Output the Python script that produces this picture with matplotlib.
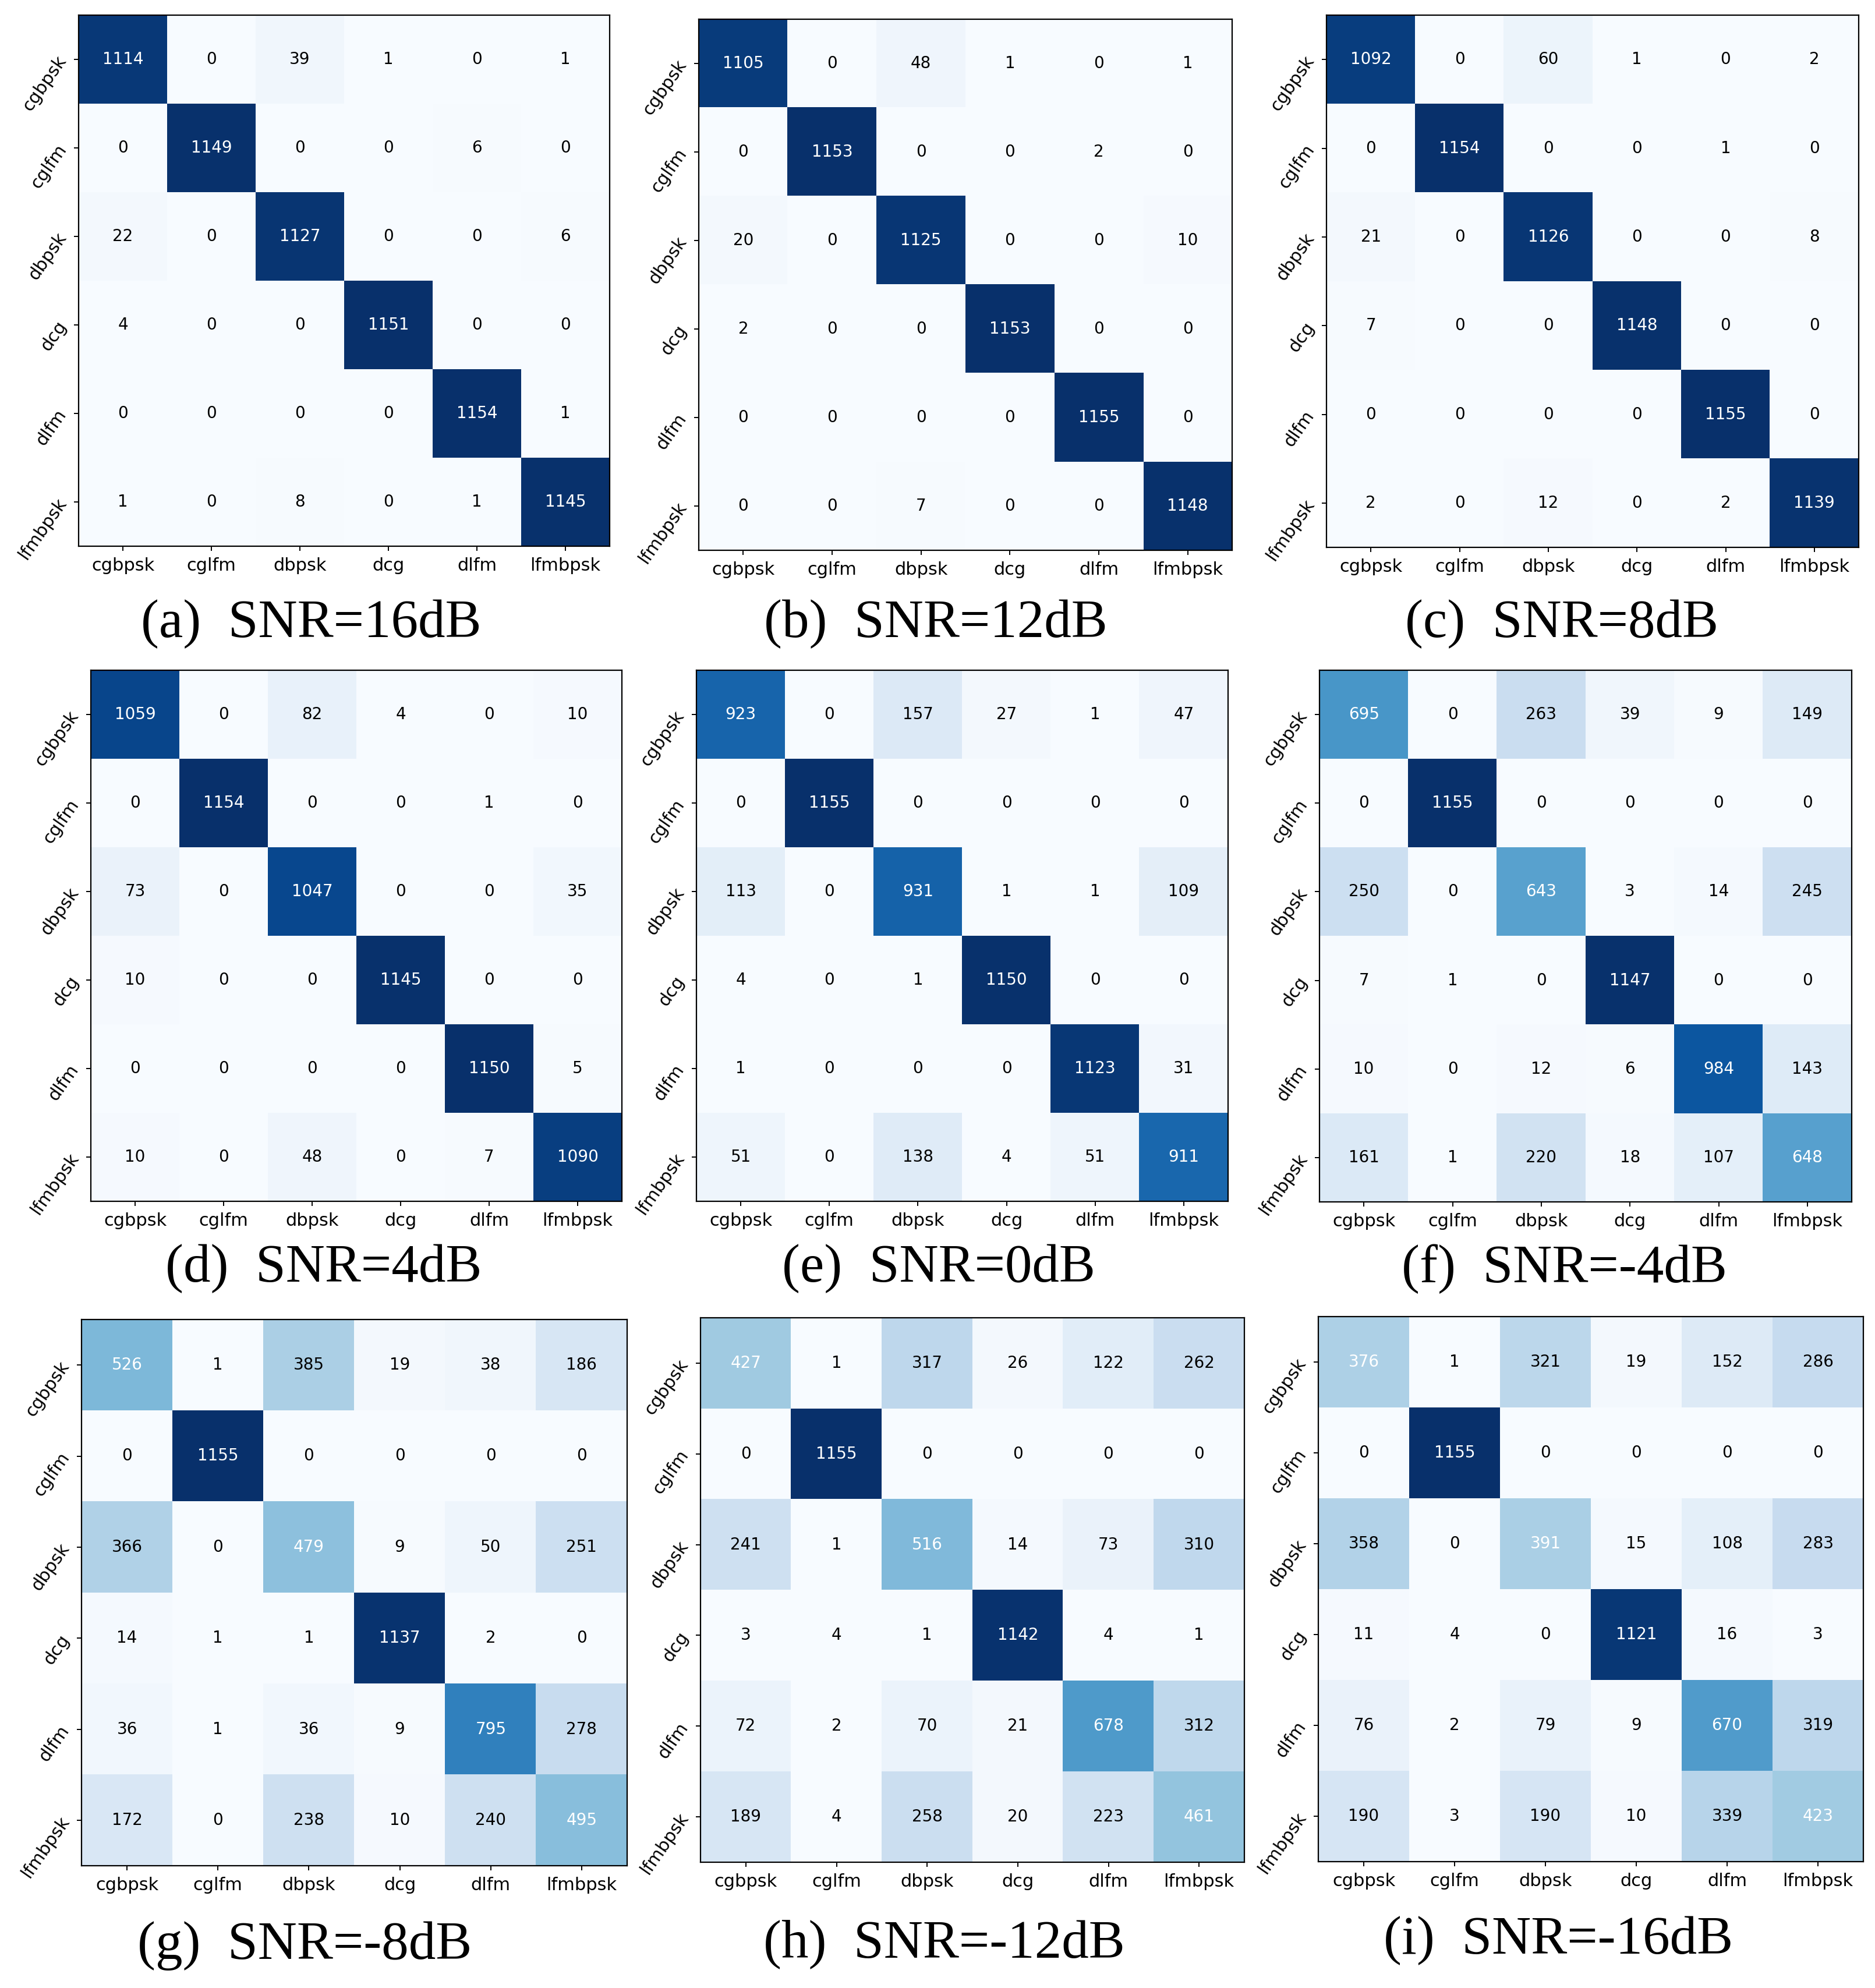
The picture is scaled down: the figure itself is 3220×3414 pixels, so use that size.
import matplotlib
matplotlib.use('Agg')
import matplotlib.pyplot as plt
import numpy as np

classes = ['cgbpsk', 'cglfm', 'dbpsk', 'dcg', 'dlfm', 'lfmbpsk']

cm_16 = [[1114, 0, 39, 1, 0, 1],
         [0, 1149, 0, 0, 6, 0],
         [22, 0, 1127, 0, 0, 6],
         [4, 0, 0, 1151, 0, 0],
         [0, 0, 0, 0, 1154, 1],
         [1, 0, 8, 0, 1, 1145]]
cm_12 = [[1105, 0, 48, 1, 0, 1],
         [0, 1153, 0, 0, 2, 0],
         [20, 0, 1125, 0, 0, 10],
         [2, 0, 0, 1153, 0, 0],
         [0, 0, 0, 0, 1155, 0],
         [0, 0, 7, 0, 0, 1148]]
cm_8 = [[1092, 0, 60, 1, 0, 2],
        [0, 1154, 0, 0, 1, 0],
        [21, 0, 1126, 0, 0, 8],
        [7, 0, 0, 1148, 0, 0],
        [0, 0, 0, 0, 1155, 0],
        [2, 0, 12, 0, 2, 1139]]
cm_4 = [[1059, 0, 82, 4, 0, 10],
        [0, 1154, 0, 0, 1, 0],
        [73, 0, 1047, 0, 0, 35],
        [10, 0, 0, 1145, 0, 0],
        [0, 0, 0, 0, 1150, 5],
        [10, 0, 48, 0, 7, 1090]]
cm_0 = [[923, 0, 157, 27, 1, 47],
        [0, 1155, 0, 0, 0, 0],
        [113, 0, 931, 1, 1, 109],
        [4, 0, 1, 1150, 0, 0],
        [1, 0, 0, 0, 1123, 31],
        [51, 0, 138, 4, 51, 911]]
cm_m4 = [[695, 0, 263, 39, 9, 149],
         [0, 1155, 0, 0, 0, 0],
         [250, 0, 643, 3, 14, 245],
         [7, 1, 0, 1147, 0, 0],
         [10, 0, 12, 6, 984, 143],
         [161, 1, 220, 18, 107, 648]]
cm_m8 = [[526, 1, 385, 19, 38, 186],
         [0, 1155, 0, 0, 0, 0],
         [366, 0, 479, 9, 50, 251],
         [14, 1, 1, 1137, 2, 0],
         [36, 1, 36, 9, 795, 278],
         [172, 0, 238, 10, 240, 495]]
cm_m12 = [[427, 1, 317, 26, 122, 262],
          [0, 1155, 0, 0, 0, 0],
          [241, 1, 516, 14, 73, 310],
          [3, 4, 1, 1142, 4, 1],
          [72, 2, 70, 21, 678, 312],
          [189, 4, 258, 20, 223, 461]]
cm_m16 = [[376, 1, 321, 19, 152, 286],
          [0, 1155, 0, 0, 0, 0],
          [358, 0, 391, 15, 108, 283],
          [11, 4, 0, 1121, 16, 3],
          [76, 2, 79, 9, 670, 319],
          [190, 3, 190, 10, 339, 423]]

captions = ['(a)  SNR=16dB', '(b)  SNR=12dB', '(c)  SNR=8dB',
            '(d)  SNR=4dB', '(e)  SNR=0dB', '(f)  SNR=-4dB',
            '(g)  SNR=-8dB', '(h)  SNR=-12dB', '(i)  SNR=-16dB']
matrices = [cm_16, cm_12, cm_8, cm_4, cm_0, cm_m4, cm_m8, cm_m12, cm_m16]

W, H = 3220, 3414
DPI = 100
fig = plt.figure(figsize=(W / DPI, H / DPI), dpi=DPI)
fig.patch.set_facecolor('white')

# axes boxes in pixels: left, top, right, bottom
boxes = [(135, 26, 1047, 938), (1200, 33, 2116, 945), (2278, 26, 3192, 940),
         (156, 1151, 1068, 2063), (1196, 1151, 2109, 2063), (2266, 1151, 3180, 2064),
         (140, 2266, 1077, 3204), (1203, 2263, 2137, 3198), (2264, 2261, 3200, 3197)]
cap_pos = [(534, 1072), (1607, 1072), (2682, 1072),
           (556, 2179), (1612, 2179), (2686, 2179),
           (523, 3342), (1621, 3339), (2676, 3333)]

for cm, (l, t, r, b), cap, (cx, cy) in zip(matrices, boxes, captions, cap_pos):
    ax = fig.add_axes([l / W, 1 - b / H, (r - l) / W, (b - t) / H])
    arr = np.array(cm)
    ax.imshow(arr, cmap='Blues', vmin=0, vmax=arr.max(), aspect='auto',
              interpolation='nearest')
    n = len(classes)
    for i in range(n):
        for j in range(n):
            ax.text(j, i, str(arr[i, j]), ha='center', va='center',
                    fontsize=20, color='white' if i == j else 'black')
    ax.set_xticks(range(n))
    ax.set_yticks(range(n))
    ax.set_xticklabels(classes, fontsize=22)
    ax.set_yticklabels(classes, fontsize=22, rotation=55)
    ax.tick_params(axis='x', length=6, width=1.4, pad=8)
    ax.tick_params(axis='y', length=6, width=1.4, pad=5)
    for s in ax.spines.values():
        s.set_linewidth(1.6)
    fig.text(cx / W, 1 - cy / H, cap, ha='center', va='center',
             fontsize=67, family='Liberation Serif')

fig.savefig('out.png', dpi=DPI, facecolor='white')
